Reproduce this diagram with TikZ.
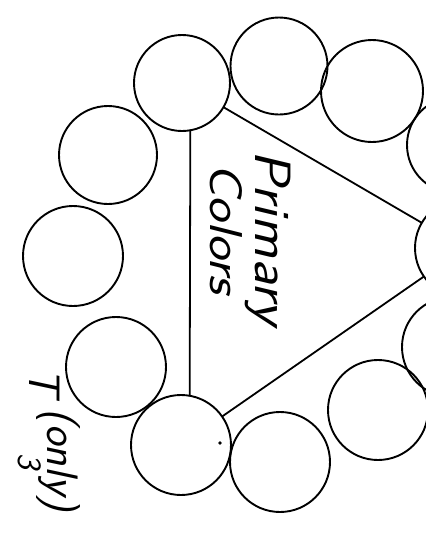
\documentclass[tikz,border=0pt]{standalone}
\usepackage{fontspec}
\begin{document}
\begin{tikzpicture}[x=1pt,y=-1pt,
  wheel/.style={circle,draw,line width=1.9pt,inner sep=0pt,outer sep=0pt,minimum size=#1},
  side/.style={line width=1.8pt},
  hand/.style={font=\sffamily\itshape\fontsize{#1}{#1}\selectfont, rotate=-90, inner sep=0pt, anchor=base west}]
\useasboundingbox (0,0) rectangle (426,550);
% ring of twelve colour circles
\node[wheel=96pt]  (A) at (182,83)  {};
\node[wheel=97pt]  (B) at (279,66)  {};
\node[wheel=102pt] (C) at (372,91)  {};
\node[wheel=96pt]  (L) at (455,145) {};
\node[wheel=100pt] (K) at (465,248) {};
\node[wheel=100pt] (J) at (452,347) {};
\node[wheel=100pt] (I) at (378,410) {};
\node[wheel=100pt] (H) at (280,462) {};
\node[wheel=100pt] (G) at (181,445) {};
\node[wheel=100pt] (F) at (116,367) {};
\node[wheel=100pt] (E) at (73,256)  {};
\node[wheel=98pt]  (D) at (108,155) {};
% triangle of primaries
\draw[side] (A) -- (K);
\draw[side] (G) -- (K);
\draw[side] (A.-80) -- (G.80);
% labels
\node[hand=51] (prim) at (255,150) {\scalebox{1.12}[1]{Primary}};
\node[hand=46] (col) at (210,163) {\scalebox{1.18}[1]{Colors}};
\node[hand=44] (t) at (30,368) {T};
\node[hand=44] (only) at (47,408) {(only)};
\node[hand=34] (three) at (18,453) {3};
\fill (220,443) circle[radius=1.8pt];
\end{tikzpicture}
\end{document}
